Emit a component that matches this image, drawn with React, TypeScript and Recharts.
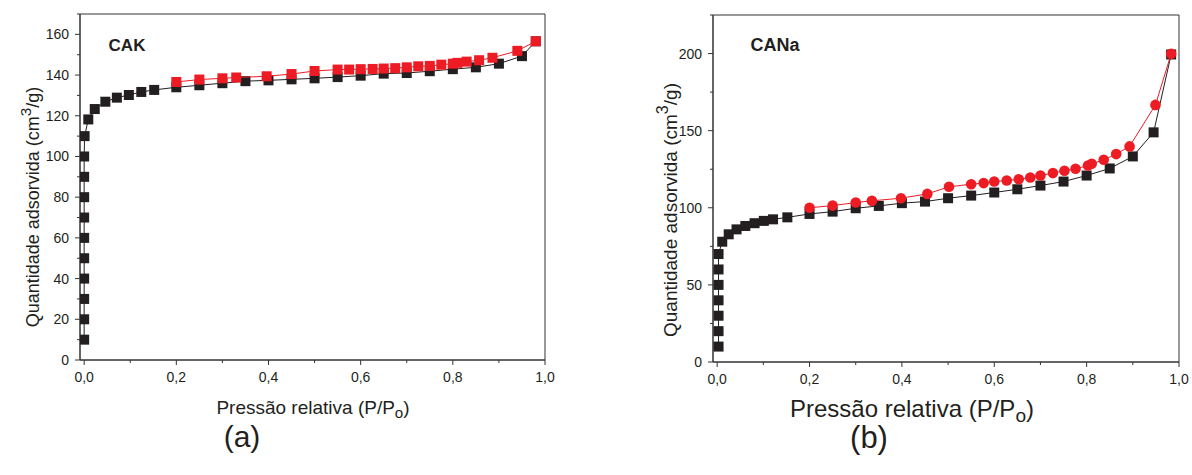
import { ScatterChart, Scatter, XAxis, YAxis, ReferenceArea } from 'recharts';

const FONT = '"Liberation Sans", Arial, Helvetica, sans-serif';
const INK = '#231f20';
const AXIS = '#333333';
const RED = '#ed1c24';

// shared x ticks (relative pressure), majors every 0.2
const xTicks = [0, 0.1, 0.2, 0.3, 0.4, 0.5, 0.6, 0.7, 0.8, 0.9, 1.0];
const xDomain = [-0.009, 1.0];

// (a) CAK
const cakYTicks = [0, 10, 20, 30, 40, 50, 60, 70, 80, 90, 100, 110, 120, 130, 140, 150, 160, 170];
const cakYDomain = [0, 170];
const cakAdsX = [0, 0, 0, 0, 0, 0, 0, 0, 0, 0, 0.001, 0.009, 0.023, 0.046, 0.071, 0.097, 0.124, 0.152, 0.2, 0.25, 0.3, 0.35, 0.4, 0.45, 0.5, 0.55, 0.6, 0.65, 0.7, 0.75, 0.8, 0.85, 0.9, 0.95, 0.98];
const cakAdsY = [10, 20, 30, 40, 50, 60, 70, 80, 90, 100, 110, 118.2, 123.3, 126.9, 128.9, 130.2, 131.7, 132.7, 134, 135, 136, 137, 137.4, 137.9, 138.4, 139, 139.7, 140.7, 141, 141.9, 142.9, 143.8, 145.6, 149.3, 156.6];
const cakDesX = [0.2, 0.25, 0.3, 0.33, 0.396, 0.45, 0.5, 0.55, 0.575, 0.6, 0.626, 0.65, 0.675, 0.7, 0.725, 0.75, 0.775, 0.8, 0.81, 0.83, 0.857, 0.886, 0.94, 0.98];
const cakDesY = [136.6, 137.8, 138.4, 138.8, 139.4, 140.5, 142, 142.7, 142.7, 142.9, 143, 143.2, 143.4, 143.8, 144.3, 144.5, 145.1, 145.6, 146, 146.6, 147.3, 148.5, 151.9, 156.6];

// (b) CANa
const canaYTicks = [0, 25, 50, 75, 100, 125, 150, 175, 200, 225];
const canaYDomain = [0, 225];
const canaAdsX = [0.003, 0.003, 0.003, 0.003, 0.003, 0.003, 0.003, 0.011, 0.025, 0.042, 0.061, 0.081, 0.101, 0.121, 0.152, 0.2, 0.25, 0.3, 0.35, 0.4, 0.45, 0.5, 0.55, 0.6, 0.65, 0.7, 0.75, 0.8, 0.85, 0.9, 0.945, 0.983];
const canaAdsY = [10, 20, 30, 40, 50, 60, 70, 78, 82.8, 86, 88.2, 90, 91.5, 92.5, 93.8, 96, 97.5, 99.7, 101.2, 103, 104, 106.2, 107.9, 109.9, 112, 114.4, 117, 120.9, 125.5, 133.3, 148.9, 199.4];
const canaDesX = [0.2, 0.25, 0.3, 0.335, 0.398, 0.455, 0.502, 0.55, 0.577, 0.6, 0.627, 0.653, 0.678, 0.7, 0.727, 0.752, 0.776, 0.803, 0.811, 0.837, 0.864, 0.893, 0.949, 0.983];
const canaDesY = [100, 101.4, 103.4, 104.5, 106.2, 109, 113.6, 115.3, 116, 117, 117.7, 118.5, 119.6, 120.9, 122.5, 124, 125.3, 127.4, 128.5, 131.1, 134.8, 139.8, 166.7, 199.8];

const zip = (xs: number[], ys: number[]) => xs.map((x, i) => ({ x, y: ys[i] }));

const square = (color: string) => (p: any) => (
  <rect x={p.cx - 5} y={p.cy - 5} width={10} height={10} fill={color} />
);
const circle = (color: string) => (p: any) => <circle cx={p.cx} cy={p.cy} r={5.3} fill={color} />;

const fmtX = (v: number) => v.toFixed(1).replace('.', ',');

const makeXTick = (fontSize: number) => (props: any) => {
  const { x, y, payload } = props;
  const major = Math.round(payload.value * 10) % 2 === 0;
  return (
    <g>
      <line x1={x} x2={x} y1={y} y2={y + (major ? 5 : 3)} stroke={AXIS} />
      {major && (
        <text x={x} y={y + 22} textAnchor="middle" fontSize={fontSize} fill={INK} fontFamily={FONT}>
          {fmtX(payload.value)}
        </text>
      )}
    </g>
  );
};

const makeYTick = (fontSize: number, step: number) => (props: any) => {
  const { x, y, payload } = props;
  const major = payload.value % step === 0;
  return (
    <g>
      <line x1={x - (major ? 5 : 3)} x2={x} y1={y} y2={y} stroke={AXIS} />
      {major && (
        <text x={x - 11} y={y + 5} textAnchor="end" fontSize={fontSize} fill={INK} fontFamily={FONT}>
          {payload.value}
        </text>
      )}
    </g>
  );
};

const abs = (left: number, top: number, extra: any = {}) => ({
  position: 'absolute' as const,
  left,
  top,
  transform: 'translate(-50%, -50%)',
  whiteSpace: 'nowrap' as const,
  fontFamily: FONT,
  color: INK,
  lineHeight: 1,
  ...extra,
});

function YTitle({ left, top, size }: { left: number; top: number; size: number }) {
  return (
    <div style={abs(left, top, { fontSize: size, transform: 'translate(-50%, -50%) rotate(-90deg)' })}>
      Quantidade adsorvida (cm<sup style={{ fontSize: '0.85em', verticalAlign: '0.55em' }}>3</sup>/g)
    </div>
  );
}

function XTitle({ left, top, size }: { left: number; top: number; size: number }) {
  return (
    <div style={abs(left, top, { fontSize: size })}>
      Pressão relativa (P/P<sub style={{ fontSize: '0.8em', verticalAlign: '-0.3em' }}>o</sub>)
    </div>
  );
}

export default function App() {
  return (
    <div style={{ position: 'absolute', left: 0, top: 0, width: 1192, height: 475, background: '#fff' }}>
      {/* (a) CAK */}
      <div style={{ position: 'absolute', left: 0, top: 0 }}>
        <ScatterChart width={600} height={400} margin={{ top: 14, right: 55, bottom: 0, left: 0 }}>
          <ReferenceArea x1={xDomain[0]} x2={xDomain[1]} y1={cakYDomain[0]} y2={cakYDomain[1]} fill="none" stroke={AXIS} strokeWidth={1} />
          <XAxis
            type="number"
            dataKey="x"
            domain={xDomain}
            ticks={xTicks}
            interval={0}
            height={40}
            tickSize={0}
            tickMargin={0}
            tick={makeXTick(14)}
            stroke={AXIS}
            allowDataOverflow
          />
          <YAxis
            type="number"
            dataKey="y"
            domain={cakYDomain}
            ticks={cakYTicks}
            interval={0}
            width={80}
            tickSize={0}
            tickMargin={0}
            tick={makeYTick(14, 20)}
            stroke={AXIS}
            allowDataOverflow
          />
          <Scatter data={zip(cakAdsX, cakAdsY)} fill={INK} line={{ stroke: INK, strokeWidth: 1 }} shape={square(INK)} isAnimationActive={false} />
          <Scatter data={zip(cakDesX, cakDesY)} fill={RED} line={{ stroke: RED, strokeWidth: 1 }} shape={square(RED)} isAnimationActive={false} />
        </ScatterChart>
      </div>
      <div style={abs(127, 45, { fontSize: 17, fontWeight: 'bold' })}>CAK</div>
      <YTitle left={30} top={207} size={18} />
      <XTitle left={313} top={409} size={19} />
      <div style={abs(242, 437, { fontSize: 30 })}>(a)</div>

      {/* (b) CANa */}
      <div style={{ position: 'absolute', left: 630, top: 0 }}>
        <ScatterChart width={560} height={400} margin={{ top: 15, right: 11, bottom: 0, left: 0 }}>
          <ReferenceArea x1={xDomain[0]} x2={xDomain[1]} y1={canaYDomain[0]} y2={canaYDomain[1]} fill="none" stroke={AXIS} strokeWidth={1} />
          <XAxis
            type="number"
            dataKey="x"
            domain={xDomain}
            ticks={xTicks}
            interval={0}
            height={38}
            tickSize={0}
            tickMargin={0}
            tick={makeXTick(14)}
            stroke={AXIS}
            allowDataOverflow
          />
          <YAxis
            type="number"
            dataKey="y"
            domain={canaYDomain}
            ticks={canaYTicks}
            interval={0}
            width={83}
            tickSize={0}
            tickMargin={0}
            tick={makeYTick(14, 50)}
            stroke={AXIS}
            allowDataOverflow
          />
          <Scatter data={zip(canaAdsX, canaAdsY)} fill={INK} line={{ stroke: INK, strokeWidth: 1 }} shape={square(INK)} isAnimationActive={false} />
          <Scatter data={zip(canaDesX, canaDesY)} fill={RED} line={{ stroke: RED, strokeWidth: 1 }} shape={circle(RED)} isAnimationActive={false} />
        </ScatterChart>
      </div>
      <div style={abs(775, 45, { fontSize: 18, fontWeight: 'bold' })}>CANa</div>
      <YTitle left={667} top={210} size={19} />
      <XTitle left={912} top={411} size={24} />
      <div style={abs(869, 437, { fontSize: 31 })}>(b)</div>
    </div>
  );
}
